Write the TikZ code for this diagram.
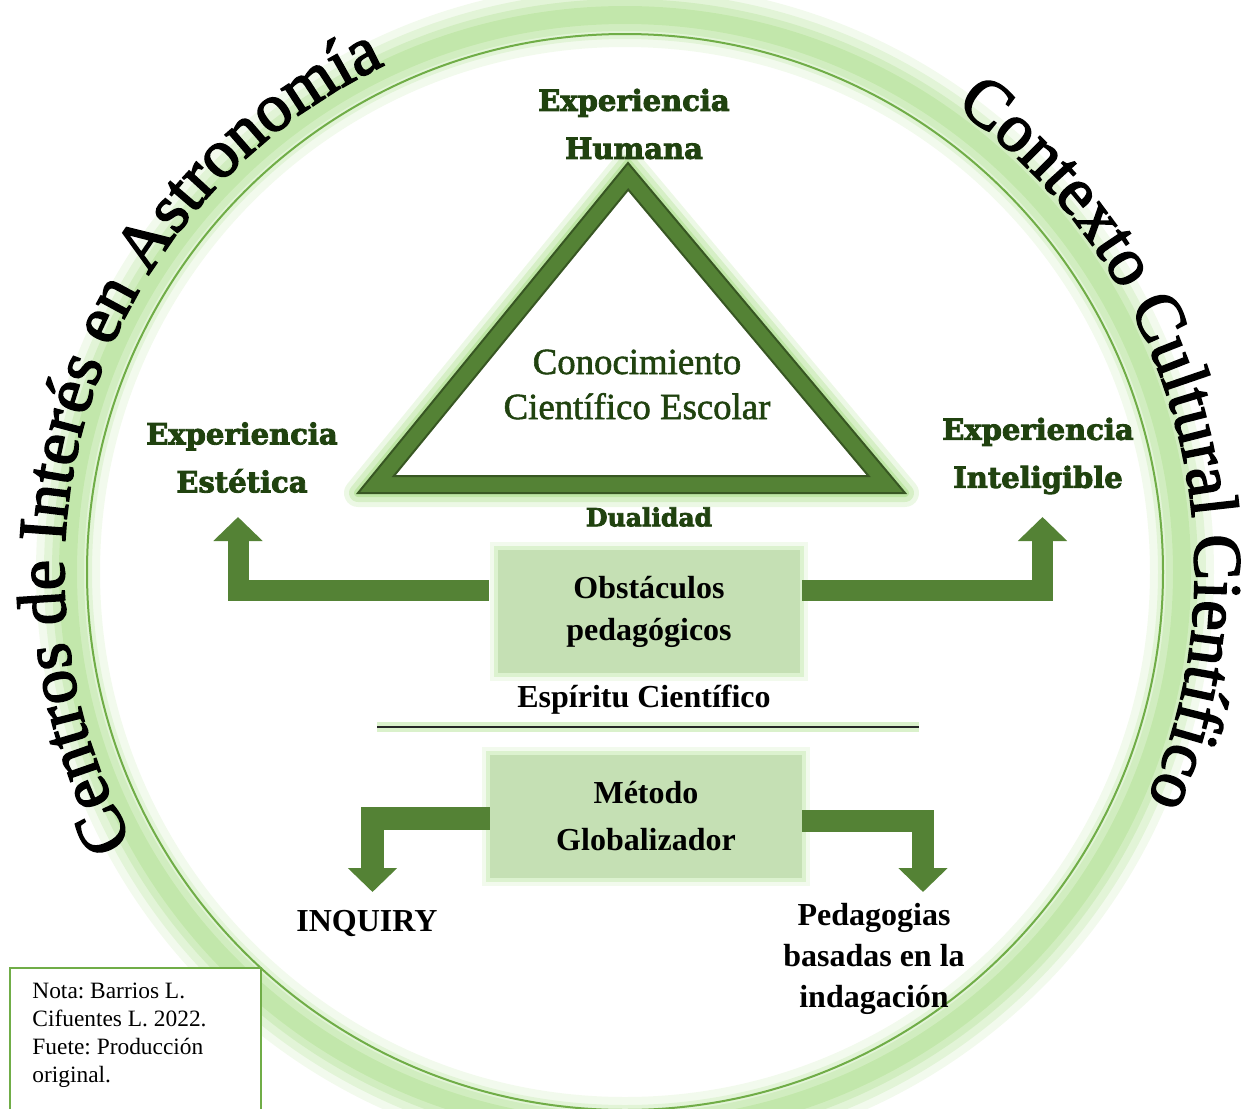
\documentclass[tikz,border=0pt]{standalone}
\usepackage{fontspec}
\setmainfont{Liberation Serif}
\newfontfamily\dvs{DejaVu Serif}[BoldFeatures={FakeBold=3}]
\newfontfamily\arcfam{Liberation Serif}[FakeBold=2.6]
\newfontfamily\conf{Liberation Serif}[FakeBold=1.5]
\usetikzlibrary{decorations.text,arrows.meta}
\definecolor{agreen}{HTML}{548235}
\definecolor{dgreen}{HTML}{385723}
\definecolor{boxfill}{HTML}{C5E0B4}
\definecolor{lgreen}{HTML}{70AD47}
\definecolor{glowc}{HTML}{A2DB7E}
\definecolor{labgreen}{HTML}{20420F}
\newcommand\arcfont{\arcfam\fontsize{34}{34}\selectfont}
\frenchspacing
\begin{document}
\begin{tikzpicture}[x=0.5pt,y=0.5pt,
  greenlab/.style={font=\dvs\bfseries\fontsize{14.5}{24}\selectfont, text=labgreen, align=center, inner sep=0pt},
  blacklab/.style={font=\bfseries\fontsize{16}{21}\selectfont, align=center, inner sep=0pt},
  glowbox/.style={fill=boxfill, minimum height=61.5pt, inner sep=0pt, align=center,
     font=\bfseries\fontsize{16}{21}\selectfont,
     preaction={draw=glowc!40, draw opacity=.35, line width=8pt},
     preaction={draw=glowc!60, draw opacity=.5, line width=4pt}},
  bigarrow/.style={draw=agreen, line width=#1, line join=miter,
     -{Triangle[length=12pt,width=24pt]}},
]
\useasboundingbox (0,0) rectangle (1250,-1109);
% circle glow and ring
\foreach \w/\o in {32pt/.14, 24pt/.2, 16pt/.26, 9pt/.32}
  \draw[glowc, line width=\w, draw opacity=\o] (625,-572) circle[radius=557];
\draw[lgreen, line width=1pt] (625,-572) circle[radius=538];
% arc texts
\path[decorate, decoration={text along path, text align=center,
  text={|\arcfont|Centros de Inter{é}s en Astronom{í}a}}]
  (625,-572) ++(212:561) arc[start angle=212, end angle=112, radius=561];
\path[decorate, decoration={text along path, text align=center,
  text={|\arcfont|Contexto Cultural Cient{í}fico}}]
  (625,-572) ++(62:570) arc[start angle=62, end angle=-31, radius=570];
% triangle
\foreach \w/\o in {14pt/.2, 9pt/.3, 4pt/.45}
  \draw[glowc, line width=\w, draw opacity=\o, line join=round] (628,-163) -- (358,-493) -- (905,-493) -- cycle;
\fill[agreen, even odd rule] (628,-163) -- (358,-493) -- (905,-493) -- cycle
  (628.2,-189.6) -- (393.8,-476) -- (868.6,-476) -- cycle;
\draw[dgreen, line width=1pt] (628,-163) -- (358,-493) -- (905,-493) -- cycle;
\draw[dgreen, line width=1pt] (628.2,-189.6) -- (393.8,-476) -- (868.6,-476) -- cycle;
% labels
\node[greenlab] (hum) at (634,-124) {Experiencia\\Humana};
\node[greenlab] (est) at (242,-457.5) {Experiencia\\Estética};
\node[greenlab] (int) at (1038,-456) {Experiencia\\Inteligible};
\node[greenlab, font=\dvs\bfseries\fontsize{12.5}{15}\selectfont] (dual) at (649,-517) {Dualidad};
\node[font=\conf\fontsize{18.4}{22.5}\selectfont, text=labgreen, align=center, inner sep=0pt] (con) at (637,-384.5) {Conocimiento\\Científico Escolar};
% boxes
\node[glowbox, minimum width=151pt] (obs) at (649,-611.5) {Obstáculos\\pedagógicos};
\node[glowbox, minimum width=156pt, font=\bfseries\fontsize{16}{23.5}\selectfont] (met) at (646,-816.5) {Método\\Globalizador};
\node[blacklab] (esp) at (644,-700) {Espíritu Científico};
\coordinate (la) at (377,-727);
\coordinate (lb) at (919,-727);
\draw[glowc, line width=5pt, draw opacity=.4] (la) -- (lb);
\draw[black!85, line width=.6pt] (la) -- (lb);
\node[blacklab] (inq) at (367,-923) {INQUIRY};
\node[blacklab, font=\bfseries\fontsize{16}{20.5}\selectfont] (ped) at (874,-959) {Pedagogias\\basadas en la\\indagación};
% arrows
\coordinate (tE) at (238,-517);
\coordinate (tI) at (1042.5,-517);
\coordinate (tQ) at (372.5,-892);
\coordinate (tP) at (923,-892);
\draw[bigarrow=10.5pt] ([xshift=-4.5pt,yshift=10.75pt]obs.west) -| (tE);
\draw[bigarrow=10.5pt] ([xshift=1pt,yshift=10.75pt]obs.east) -| (tI);
\draw[bigarrow=11.5pt] ([yshift=-1pt]met.west) -| (tQ);
\draw[bigarrow=11pt] ([yshift=-2.25pt]met.east) -| (tP);
% note
\draw[lgreen, line width=1.2pt, fill=white] (10,-968) rectangle (261,-1125);
\node[anchor=north west, align=left, inner sep=0pt, font=\fontsize{11.7}{14}\selectfont] (nota) at (32,-983) {Nota: Barrios L.\\Cifuentes L. 2022.\\Fuete: Producción\\original.};
\end{tikzpicture}
\end{document}
